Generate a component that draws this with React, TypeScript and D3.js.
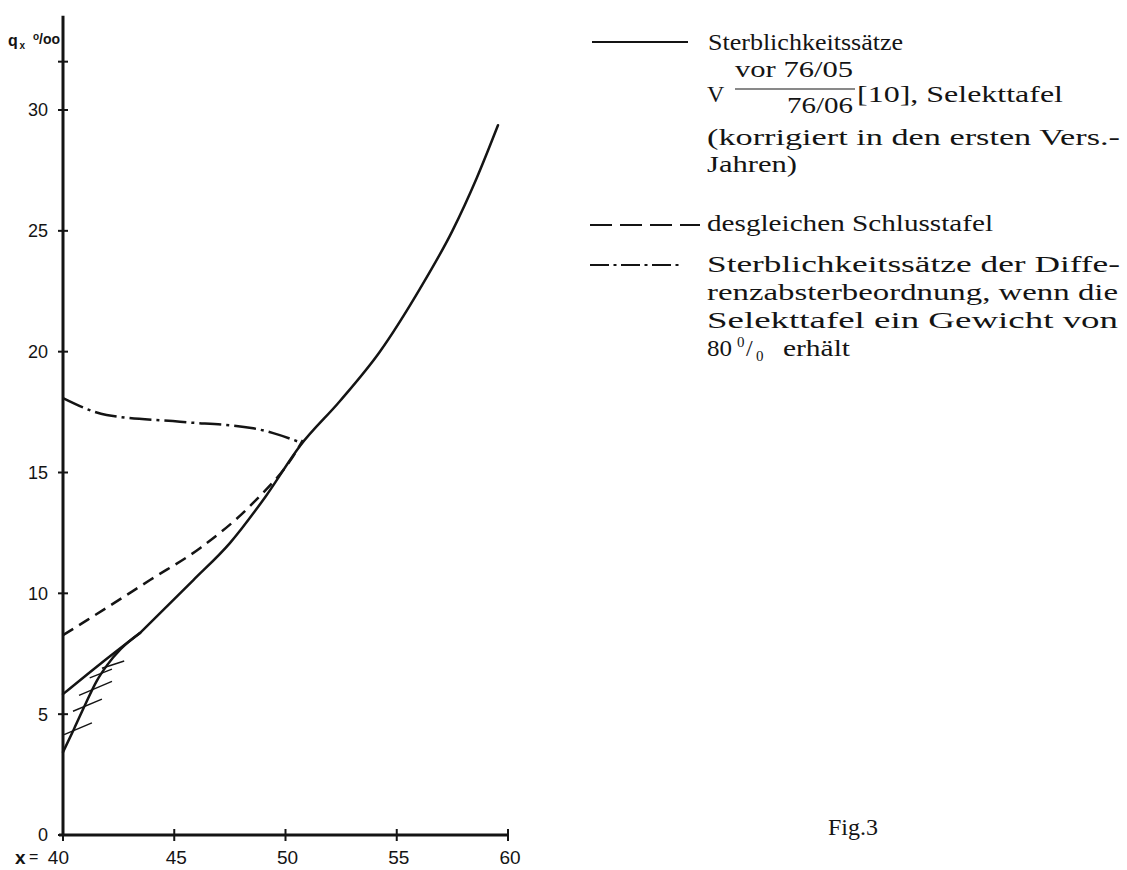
import React from "react";
import * as d3 from "d3";

// ---- data (age x, mortality q_x in per mille) ----
const ageTicks = [40, 45, 50, 55, 60];
const qTicks = [0, 5, 10, 15, 20, 25, 30];
const qMinorTicks = [32];

// Selekttafel (solid), main branch after the two early branches join
const selektAges = [43.46, 45.86, 47.5, 49.1, 50.65, 52.44, 54.24, 56.04, 57.5, 58.6, 59.55];
const selektQ = [8.36, 10.55, 12.08, 14.0, 16.1, 17.95, 20.0, 22.6, 25.0, 27.2, 29.37];

// upper early branch (solid)
const upperAges = [40, 41.7, 43.46];
const upperQ = [5.83, 7.1, 8.36];

// lower early branch (solid, hatched)
const lowerAges = [40, 40.5, 41.0, 41.5, 42.0, 42.6, 43.46];
const lowerQ = [3.43, 4.4, 5.4, 6.35, 7.05, 7.7, 8.36];

// hatch strokes across the lower branch: [age1, q1, age2, q2]
const hatchSegments = [
  [40.05, 4.15, 41.3, 4.64],
  [40.45, 5.12, 41.75, 5.62],
  [40.72, 5.78, 42.2, 6.36],
  [41.2, 6.5, 42.2, 6.86],
  [41.75, 6.9, 42.75, 7.2],
];

// Schlusstafel (dashed)
const schlussAges = [40, 41.1, 43.91, 46.2, 48.5, 50.5, 50.78];
const schlussQ = [8.27, 8.9, 10.55, 11.9, 13.7, 15.9, 16.34];

// Differenzabsterbeordnung (dash-dot)
const diffAges = [40, 41.96, 45.26, 48.55, 49.45, 50.65];
const diffQ = [18.08, 17.38, 17.1, 16.83, 16.63, 16.25];

const INK = "#141414";
const SERIF = "'Liberation Serif', 'DejaVu Serif', serif";
const SANS = "'Liberation Sans', 'DejaVu Sans', sans-serif";
const FS = 24;

export default function App() {
  const W = 1127;
  const H = 870;
  const x = d3.scaleLinear().domain([40, 60]).range([63, 508]);
  const y = d3.scaleLinear().domain([0, 30]).range([835, 110]);

  const mk = (ages: number[], qs: number[]) =>
    d3
      .line<number>()
      .x((_, i) => x(ages[i]))
      .y((_, i) => y(qs[i]))
      .curve(d3.curveMonotoneX)(ages) || "";

  const lineStyle = {
    fill: "none",
    stroke: INK,
    strokeWidth: 2.5,
    strokeLinecap: "round" as const,
    strokeLinejoin: "round" as const,
  };

  const T = (props: { x: number; y: number; len?: number; children: React.ReactNode; size?: number }) => (
    <text
      x={props.x}
      y={props.y}
      fontFamily={SERIF}
      fontSize={props.size ?? FS}
      fill={INK}
      textLength={props.len}
      lengthAdjust={props.len ? "spacingAndGlyphs" : undefined}
    >
      {props.children}
    </text>
  );

  return (
    <svg
      width={W}
      height={H}
      viewBox={`0 0 ${W} ${H}`}
      style={{ position: "absolute", left: 0, top: 0, background: "#fff" }}
    >
      <rect x={0} y={0} width={W} height={H} fill="#fff" />

      {/* axes */}
      <line x1={x(40)} x2={x(40)} y1={y(0)} y2={y(33.9)} stroke={INK} strokeWidth={3} />
      <line x1={x(40) - 4} x2={x(60) + 1} y1={y(0)} y2={y(0)} stroke={INK} strokeWidth={3} />

      {qTicks.concat(qMinorTicks).map((t) => (
        <line key={"yt" + t} x1={x(40) - 5} x2={x(40) + 5} y1={y(t)} y2={y(t)} stroke={INK} strokeWidth={2} />
      ))}
      {qTicks.map((t) => (
        <text
          key={"yl" + t}
          x={x(40) - 15}
          y={y(t)}
          dy="0.36em"
          textAnchor="end"
          fontFamily={SANS}
          fontSize={18}
          fill={INK}
        >
          {t}
        </text>
      ))}
      {ageTicks.map((t) => (
        <line key={"xt" + t} x1={x(t)} x2={x(t)} y1={y(0) - 6} y2={y(0) + 6} stroke={INK} strokeWidth={2} />
      ))}
      {ageTicks.map((t) => (
        <text
          key={"xl" + t}
          x={t === 40 ? x(t) + 6 : x(t) + 2}
          y={864}
          textAnchor={t === 40 ? "end" : "middle"}
          fontFamily={SANS}
          fontSize={19}
          fill={INK}
        >
          {t}
        </text>
      ))}
      <text x={15} y={864} fontFamily={SANS} fontSize={19} fontWeight="bold" fill={INK}>
        x
      </text>
      <text x={29} y={862} fontFamily={SANS} fontSize={16} fill={INK}>
        =
      </text>

      {/* y axis title */}
      <text x={8} y={46} fontFamily={SANS} fontSize={16} fontWeight="bold" fill={INK}>
        q
      </text>
      <text x={19.5} y={49} fontFamily={SANS} fontSize={10} fontWeight="bold" fill={INK}>
        x
      </text>
      <text x={33} y={40} fontFamily={SANS} fontSize={10} fontWeight="bold" fill={INK}>
        o
      </text>
      <text x={39} y={44} fontFamily={SANS} fontSize={14} fontWeight="bold" fill={INK}>
        /oo
      </text>

      {/* curves */}
      <path d={mk(selektAges, selektQ)} {...lineStyle} />
      <path d={mk(upperAges, upperQ)} {...lineStyle} />
      <path d={mk(lowerAges, lowerQ)} {...lineStyle} />
      {hatchSegments.map((s, i) => (
        <line
          key={"h" + i}
          x1={x(s[0])}
          y1={y(s[1])}
          x2={x(s[2])}
          y2={y(s[3])}
          stroke={INK}
          strokeWidth={1.4}
        />
      ))}
      <path d={mk(schlussAges, schlussQ)} {...lineStyle} strokeLinecap="butt" strokeDasharray="12,7" />
      <path d={mk(diffAges, diffQ)} {...lineStyle} strokeLinecap="butt" strokeDasharray="22,5,3,5" />

      {/* legend */}
      <line x1={592} x2={688} y1={42} y2={42} stroke={INK} strokeWidth={2.2} />
      <T x={708} y={50} len={195}>Sterblichkeitssätze</T>
      <T x={707} y={102}>V</T>
      <T x={735} y={77} len={118}>vor 76/05</T>
      <line x1={735} x2={855} y1={89} y2={89} stroke={INK} strokeWidth={1.2} />
      <T x={787} y={113} len={66}>76/06</T>
      <T x={857} y={102} len={206}>[10],  Selekttafel</T>
      <T x={707} y={145} len={413}>(korrigiert in den ersten Vers.-</T>
      <T x={707} y={172} len={90}>Jahren)</T>

      <line x1={590} x2={700} y1={225} y2={225} stroke={INK} strokeWidth={2.2} strokeDasharray="22,8" />
      <T x={707} y={231} len={286}>desgleichen Schlusstafel</T>

      <line x1={590} x2={679} y1={265} y2={265} stroke={INK} strokeWidth={2} strokeDasharray="19,4.5,3,4.5" />
      <T x={707} y={272} len={413}>Sterblichkeitssätze   der   Diffe-</T>
      <T x={707} y={300} len={411}>renzabsterbeordnung, wenn die</T>
      <T x={707} y={328} len={411}>Selekttafel   ein   Gewicht   von</T>
      <T x={707} y={356} len={25}>80</T>
      <T x={737} y={347} size={15}>0</T>
      <T x={746} y={356}>/</T>
      <T x={756} y={361} size={15}>0</T>
      <T x={783} y={356} len={67}>erhält</T>

      <T x={828} y={835}>Fig.3</T>
    </svg>
  );
}
